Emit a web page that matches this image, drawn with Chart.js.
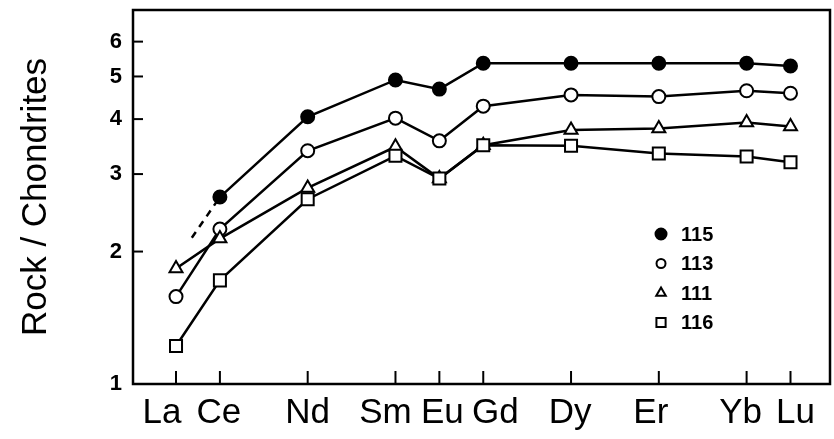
<!DOCTYPE html>
<html>
<head>
<meta charset="utf-8">
<script src="https://cdn.jsdelivr.net/npm/chart.js@4"></script>
<style>
  html, body { margin: 0; padding: 0; background: #fff; }
  #wrap { width: 834px; height: 439px; position: relative; }
</style>
</head>
<body>
<div id="wrap"><canvas id="ree"></canvas></div>
<script>
// REE elements and their atomic numbers (x position)
const ELEMENTS = ['La', 'Ce', 'Nd', 'Sm', 'Eu', 'Gd', 'Dy', 'Er', 'Yb', 'Lu'];
const ATOMIC   = [57, 58, 60, 62, 63, 64, 66, 68, 70, 71];

// chondrite-normalised values per sample
const S115 = [null, 2.66, 4.05, 4.91, 4.68, 5.36, 5.36, 5.36, 5.36, 5.28];
const S113 = [1.58, 2.25, 3.39, 4.02, 3.57, 4.28, 4.54, 4.50, 4.64, 4.58];
const S111 = [1.83, 2.14, 2.79, 3.46, 2.93, 3.49, 3.78, 3.81, 3.93, 3.85];
const S116 = [1.22, 1.72, 2.63, 3.30, 2.93, 3.49, 3.48, 3.34, 3.29, 3.19];

// dashed extrapolation of 115 toward La
const DASH_X = [57.36, 58];
const DASH_Y = [2.15, 2.66];

const Y_TICKS = [1, 2, 3, 4, 5, 6];

// the element names are hand-lettered, slightly off their ticks
const LABEL_NUDGE = [-14, -1, 0, -10, 3, 12, -1, -8, -6, 5];

const FONT = 'Liberation Sans, Arial, Helvetica, sans-serif';

function pts(vals) {
    return ATOMIC.map((x, i) => ({ x, y: vals[i] })).filter(p => p.y !== null);
}

function series(label, vals, style) {
    return {
        label,
        data: pts(vals),
        borderColor: '#000',
        borderWidth: 2.5,
        pointBorderColor: '#000',
        pointBorderWidth: 2,
        pointBackgroundColor: style.fill,
        pointStyle: style.shape,
        pointRadius: style.r,
        tension: 0,
        order: 1,
    };
}

const datasets = [
    series('116', S116, { shape: 'rect', fill: '#fff', r: 8.5 }),
    series('111', S111, { shape: 'triangle', fill: '#fff', r: 7.5 }),
    series('113', S113, { shape: 'circle', fill: '#fff', r: 6.5 }),
    series('115', S115, { shape: 'circle', fill: '#000', r: 6.5 }),
    {
        label: 'dash',
        data: DASH_X.map((x, i) => ({ x, y: DASH_Y[i] })),
        borderColor: '#000',
        borderWidth: 2.5,
        borderDash: [7, 6],
        pointRadius: 0,
        order: 2,
    },
];

// frame, inward ticks, element names and the little legend inside the plot
const framePlugin = {
    id: 'frame',
    afterDraw(chart) {
        const { ctx, chartArea: a, scales } = chart;
        ctx.save();
        ctx.strokeStyle = '#000';
        ctx.lineWidth = 2.5;
        ctx.strokeRect(a.left, a.top, a.right - a.left, a.bottom - a.top);
        ctx.lineWidth = 2;
        ATOMIC.forEach(v => {
            const px = scales.x.getPixelForValue(v);
            ctx.beginPath();
            ctx.moveTo(px, a.bottom);
            ctx.lineTo(px, a.bottom - 13);
            ctx.stroke();
        });
        Y_TICKS.slice(1).forEach(v => {
            const py = scales.y.getPixelForValue(v);
            ctx.beginPath();
            ctx.moveTo(a.left, py);
            ctx.lineTo(a.left + 10, py);
            ctx.stroke();
        });

        ctx.fillStyle = '#000';
        ctx.font = '35px ' + FONT;
        ctx.textAlign = 'center';
        ctx.textBaseline = 'middle';
        ATOMIC.forEach((v, i) => {
            ctx.fillText(ELEMENTS[i], scales.x.getPixelForValue(v) + LABEL_NUDGE[i], a.bottom + 29);
        });

        const legend = [
            { label: '115', shape: 'circle', fill: '#000', r: 5.5 },
            { label: '113', shape: 'circle', fill: '#fff', r: 4.5 },
            { label: '111', shape: 'triangle', fill: '#fff', r: 5.5 },
            { label: '116', shape: 'rect', fill: '#fff', r: 6.5 },
        ];
        const mx = scales.x.getPixelForValue(68.05);
        ctx.font = 'bold 20px ' + FONT;
        ctx.textAlign = 'left';
        legend.forEach((l, i) => {
            const y = 234 + i * 29.5;
            ctx.fillStyle = l.fill;
            ctx.lineWidth = 2;
            Chart.helpers.drawPoint(ctx, { pointStyle: l.shape, radius: l.r, borderWidth: 2 }, mx, y);
            ctx.fillStyle = '#000';
            ctx.fillText(l.label, mx + 20, y + 1);
        });
        ctx.restore();
    },
};

new Chart(document.getElementById('ree'), {
    type: 'line',
    data: { datasets },
    plugins: [framePlugin],
    options: {
        responsive: true,
        maintainAspectRatio: false,
        animation: false,
        layout: { autoPadding: false, padding: { top: 10, right: 4, left: 0, bottom: 0 } },
        plugins: { legend: { display: false }, tooltip: { enabled: false } },
        scales: {
            x: {
                type: 'linear',
                min: 56.02,
                max: 71.9,
                afterBuildTicks: s => { s.ticks = ATOMIC.map(v => ({ value: v })); },
                afterFit: s => { s.height = 55; s.paddingLeft = 0; s.paddingRight = 0; },
                grid: { display: false, drawTicks: false },
                border: { display: false },
                ticks: { display: false },
            },
            y: {
                type: 'logarithmic',
                min: 1,
                max: 7.08,
                afterBuildTicks: s => { s.ticks = Y_TICKS.map(v => ({ value: v })); },
                afterFit: s => { s.width = 133; s.paddingTop = 0; s.paddingBottom = 0; },
                grid: { display: false, drawTicks: false },
                border: { display: false },
                ticks: {
                    padding: 11,
                    color: '#000',
                    font: { size: 22, weight: 'bold', family: FONT },
                    callback: v => String(v),
                },
                title: {
                    display: true,
                    text: 'Rock / Chondrites',
                    color: '#000',
                    font: { size: 35, family: FONT },
                    padding: { top: 15, bottom: 0 },
                },
            },
        },
    },
});
</script>
</body>
</html>
